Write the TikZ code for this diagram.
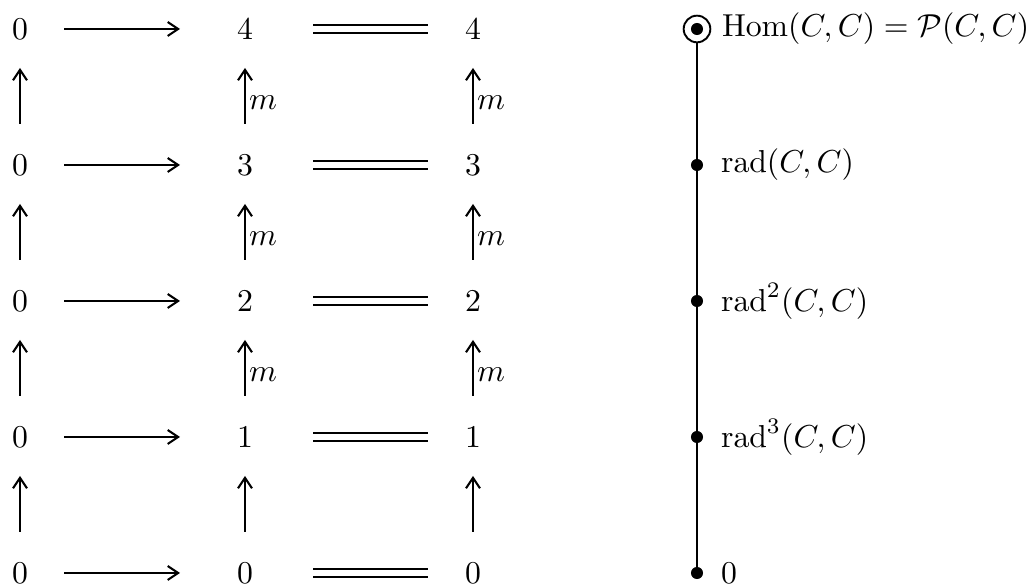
\documentclass[tikz,border=0pt]{standalone}
\usetikzlibrary{arrows.meta}
\def\pxu{0.315pt}
\begin{document}
\begin{tikzpicture}[x=\pxu,y=-\pxu,line width=0.65pt,
  obj/.style={inner sep=0pt},
  tip/.style={-{Straight Barb[length=3.3pt,width=4.4pt,line width=0.65pt]}},
  harr/.style={tip,shorten <=44*\pxu,shorten >=65*\pxu},
  dbl/.style={double,double distance=2.2pt,line width=0.6pt,shorten <=68*\pxu,shorten >=45*\pxu},
  varr/.style={tip,shorten <=41*\pxu,shorten >=39*\pxu},
  lab/.style={inner sep=0pt,anchor=west,xshift=1pt},
  bigdot/.style={circle,fill=black,inner sep=0pt,minimum size=3.8pt},
  ring/.style={circle,draw,line width=0.6pt,inner sep=0pt,minimum size=8.4pt},
  txt/.style={inner sep=0pt,anchor=west}]
\useasboundingbox (0,0) rectangle (1029,586);
\foreach \r/\y in {4/29,3/165,2/301,1/437,0/573} {
  \node[obj] (a\r) at (20,\y) {$0$};
  \node[obj] (b\r) at (245,\y) {$\r$};
  \node[obj] (c\r) at (473,\y) {$\r$};
  \draw[harr] (a\r.center) -- (b\r.center);
  \draw[dbl] (b\r.center) -- (c\r.center);
}
\foreach \lo/\hi in {3/4,2/3,1/2} {
  \draw[varr] (a\lo.center) -- (a\hi.center);
  \draw[varr] (b\lo.center) -- node[lab,pos=0.46] {$m$} (b\hi.center);
  \draw[varr] (c\lo.center) -- node[lab,pos=0.46] {$m$} (c\hi.center);
}
\draw[varr] (a0.center) -- (a1.center);
\draw[varr] (b0.center) -- (b1.center);
\draw[varr] (c0.center) -- (c1.center);
% right chain
\node[ring] (r4) at (697,29) {};
\node[bigdot] (d4) at (697,29) {};
\node[bigdot] (d3) at (697,165) {};
\node[bigdot] (d2) at (697,301) {};
\node[bigdot] (d1) at (697,437) {};
\node[bigdot] (d0) at (697,573) {};
\draw (r4) -- (d0.center);
\node[txt] (t4) at (721,29) {$\mathrm{Hom}(C,C)=\mathcal{P}(C,C)$};
\node[txt] (t3) at (720,165) {$\mathrm{rad}(C,C)$};
\node[txt] (t2) at (720,301) {$\mathrm{rad}^2(C,C)$};
\node[txt] (t1) at (720,437) {$\mathrm{rad}^3(C,C)$};
\node[txt] (t0) at (720,573) {$0$};
\end{tikzpicture}
\end{document}
